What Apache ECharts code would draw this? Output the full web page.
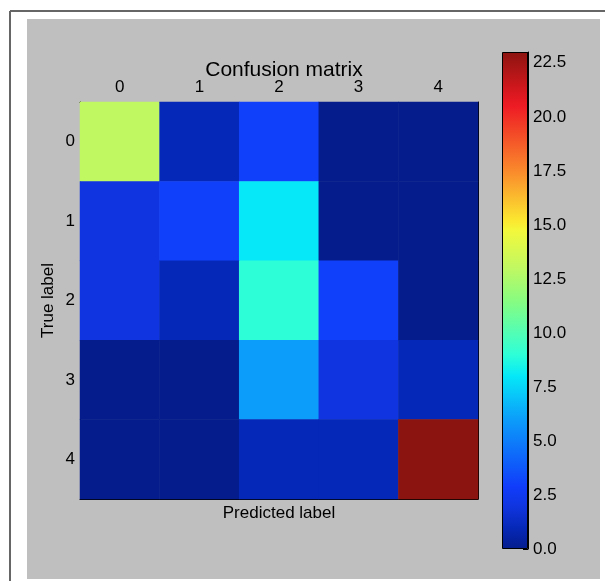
<!DOCTYPE html>
<html>
<head>
<meta charset="utf-8">
<script src="https://cdn.jsdelivr.net/npm/echarts@6/dist/echarts.min.js"></script>
<style>html,body{margin:0;padding:0;background:#fff}#c{width:605px;height:581px}</style>
</head>
<body>
<div id="c"></div>
<script>
// ---- data ----
const predictedLabels = ['0', '1', '2', '3', '4'];
const trueLabels = ['0', '1', '2', '3', '4'];
const row0 = [13, 1, 3, 0, 0];
const row1 = [2, 3, 8, 0, 0];
const row2 = [2, 1, 9, 3, 0];
const row3 = [0, 0, 6, 2, 1];
const row4 = [0, 0, 1, 1, 23];
const rows = [row0, row1, row2, row3, row4];
const colorbarTickStep = 2.5;

// ---- jet-like colormap (as rendered in the reference) ----
const cmapStops = [
  [0.000, '#041c8c'], [0.043, '#0628b8'], [0.087, '#1035e0'], [0.125, '#103cfa'],
  [0.260, '#0c9cfa'], [0.348, '#05e8f8'], [0.391, '#2effd8'], [0.500, '#88fc80'],
  [0.565, '#c0f862'], [0.640, '#f2f83c'], [0.660, '#fbe830'], [0.760, '#fa8a2c'],
  [0.890, '#ee1c24'], [0.910, '#e01820'], [1.000, '#8c1410']
];
function hex2rgb(h) { return [1, 3, 5].map(i => parseInt(h.substr(i, 2), 16)); }
function cmap(t) {
  for (let i = 1; i < cmapStops.length; i++) {
    if (t <= cmapStops[i][0]) {
      const [t0, c0] = cmapStops[i - 1], [t1, c1] = cmapStops[i];
      const f = (t - t0) / (t1 - t0), a = hex2rgb(c0), b = hex2rgb(c1);
      return 'rgb(' + a.map((v, k) => Math.round(v + (b[k] - v) * f)).join(',') + ')';
    }
  }
  return cmapStops[cmapStops.length - 1][1];
}
const vmax = Math.max(...rows.flat());
const vmin = 0;
const rangeColors = [];
for (let i = 0; i <= 200; i++) rangeColors.push(cmap(i / 200));

const heatData = [];
rows.forEach((r, yi) => r.forEach((v, xi) => heatData.push([xi, yi, v])));

const font = 'Liberation Sans, Arial, Helvetica, sans-serif';
const FS = 17;
const chart = echarts.init(document.getElementById('c'), null, { renderer: 'canvas' });
const M = { left: 80, top: 102, width: 398, height: 397 };
const CB = { left: 502, top: 52, width: 26, height: 497 };

chart.setOption({
  backgroundColor: '#ffffff',
  animation: false,
  graphic: [
    { type: 'rect', z: -100, shape: { x: 27, y: 19, width: 573, height: 560 }, style: { fill: '#bfbfbf' } },
    { type: 'line', z: -100, shape: { x1: 10, y1: 11, x2: 605, y2: 11 }, style: { stroke: '#666', lineWidth: 2 } },
    { type: 'line', z: -100, shape: { x1: 10, y1: 11, x2: 10, y2: 581 }, style: { stroke: '#666', lineWidth: 2 } }
  ],
  title: {
    text: 'Confusion matrix', left: M.left + M.width / 2, top: 55, textAlign: 'center',
    textStyle: { fontFamily: font, fontSize: 21, fontWeight: 'normal', color: '#000' }
  },
  grid: [
    Object.assign({}, M, { containLabel: false }),
    Object.assign({}, CB, { containLabel: false })
  ],
  xAxis: [
    {
      type: 'category', data: predictedLabels, gridIndex: 0, position: 'top',
      axisLine: { show: true, lineStyle: { color: '#000', width: 1 } },
      axisTick: { show: true, inside: true, alignWithLabel: true, length: 5, lineStyle: { color: '#000' } },
      axisLabel: { fontFamily: font, fontSize: FS, color: '#000', margin: 6 },
      splitLine: { show: false }
    },
    {
      type: 'category', data: predictedLabels, gridIndex: 0, position: 'bottom',
      name: 'Predicted label', nameLocation: 'middle', nameGap: 6,
      nameTextStyle: { fontFamily: font, fontSize: FS, color: '#000', verticalAlign: 'top' },
      axisLine: { show: true, lineStyle: { color: '#000', width: 1 } },
      axisTick: { show: true, inside: true, alignWithLabel: true, length: 5, lineStyle: { color: '#000' } },
      axisLabel: { show: false },
      splitLine: { show: false }
    },
    {
      type: 'category', data: ['cb'], gridIndex: 1, show: false
    }
  ],
  yAxis: [
    {
      type: 'category', data: trueLabels, gridIndex: 0, inverse: true, position: 'left',
      name: 'True label', nameLocation: 'middle', nameGap: 23, nameRotate: 90, nameMoveOverlap: false,
      nameTextStyle: { fontFamily: font, fontSize: FS, color: '#000' },
      axisLine: { show: true, lineStyle: { color: '#000', width: 1 } },
      axisTick: { show: true, inside: true, alignWithLabel: true, length: 5, lineStyle: { color: '#000' } },
      axisLabel: { fontFamily: font, fontSize: FS, color: '#000', margin: 5 },
      splitLine: { show: false }
    },
    {
      type: 'category', data: trueLabels, gridIndex: 0, inverse: true, position: 'right',
      axisLine: { show: true, lineStyle: { color: '#000', width: 1 } },
      axisTick: { show: true, inside: true, alignWithLabel: true, length: 5, lineStyle: { color: '#000' } },
      axisLabel: { show: false },
      splitLine: { show: false }
    },
    {
      type: 'value', gridIndex: 1, position: 'right', min: vmin, max: vmax, interval: colorbarTickStep,
      axisLine: { show: true, lineStyle: { color: '#000', width: 1 } },
      axisTick: { show: true, inside: true, length: 5, lineStyle: { color: '#000' } },
      axisLabel: {
        fontFamily: font, fontSize: FS, color: '#000', margin: 5,
        formatter: v => (Math.abs(v / colorbarTickStep - Math.round(v / colorbarTickStep)) < 1e-9 ? v.toFixed(1) : '')
      },
      splitLine: { show: false }
    }
  ],
  visualMap: {
    show: false, type: 'continuous', seriesIndex: 0, min: vmin, max: vmax,
    inRange: { color: rangeColors }
  },
  series: [
    {
      type: 'heatmap', xAxisIndex: 0, yAxisIndex: 0, data: heatData,
      itemStyle: { borderWidth: 0 }, emphasis: { disabled: true }
    },
    {
      type: 'bar', xAxisIndex: 2, yAxisIndex: 2, data: [vmax], barWidth: '100%', z: 1,
      itemStyle: {
        borderColor: '#000', borderWidth: 1,
        color: new echarts.graphic.LinearGradient(0, 1, 0, 0,
          cmapStops.map(s => ({ offset: s[0], color: s[1] })))
      }
    }
  ]
});
</script>
</body>
</html>
